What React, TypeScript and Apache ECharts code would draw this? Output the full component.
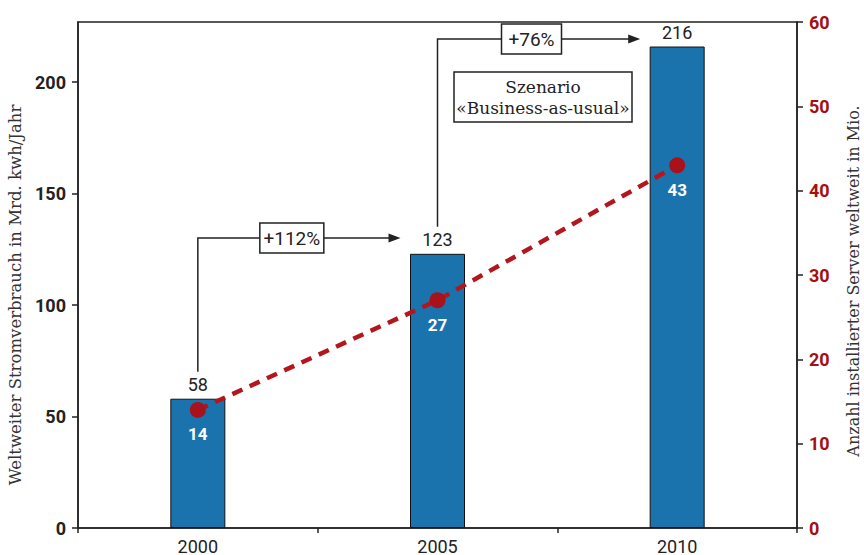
import React, { useEffect, useRef } from 'react';
import * as echarts from 'echarts';

// Weltweiter Stromverbrauch von Servern und installierte Server
const years = ['2000', '2005', '2010'];
const powerBillionKwh = [58, 123, 216];
const serversMillion = [14, 27, 43];
const growthLabels = ['+112%', '+76%'];
const scenarioLines = ['Szenario', '«Business-as-usual»'];

const SANS = 'Roboto, "Liberation Sans", sans-serif';
const SERIF = '"DejaVu Serif", "Liberation Serif", serif';
const INK = '#222';
const RED = '#a50f14';

export default function App() {
  const ref = useRef<HTMLDivElement>(null);

  useEffect(() => {
    const chart = echarts.init(ref.current!, null, { renderer: 'svg' });

    chart.setOption({
      animation: false,
      backgroundColor: '#ffffff',
      grid: {
        left: 78,
        right: 67,
        top: 22,
        bottom: 27,
        outerBoundsMode: 'none',
        show: true,
        borderColor: INK,
        borderWidth: 1.5,
      },
      xAxis: {
        type: 'category',
        data: years,
        axisLine: { lineStyle: { color: INK, width: 1.5 } },
        axisTick: { show: true, length: 5, lineStyle: { color: INK, width: 1.5 } },
        axisLabel: { fontFamily: SANS, fontSize: 18, color: INK, margin: 9 },
      },
      yAxis: [
        {
          type: 'value',
          position: 'left',
          min: 0,
          max: 227,
          interval: 50,
          name: 'Weltweiter Stromverbrauch in Mrd. kwh/Jahr',
          nameLocation: 'middle',
          nameGap: 46,
          nameTextStyle: {
            fontFamily: SERIF,
            fontSize: 16.5,
            color: '#333',
            padding: [0, 40, 0, 0],
          },
          axisLine: { show: true, lineStyle: { color: INK, width: 1.5 } },
          axisTick: { show: true, length: 6, lineStyle: { color: INK, width: 1.5 } },
          axisLabel: {
            showMaxLabel: false,
            fontFamily: SANS,
            fontWeight: 'bold',
            fontSize: 18,
            color: INK,
            margin: 12,
          },
          splitLine: { show: false },
        },
        {
          type: 'value',
          position: 'right',
          min: 0,
          max: 60,
          interval: 10,
          name: 'Anzahl installierter Server weltweit in Mio.',
          nameLocation: 'middle',
          nameGap: 48,
          nameTextStyle: { fontFamily: SERIF, fontSize: 16, color: '#333', padding: [0, 12, 0, 0] },
          axisLine: { show: true, lineStyle: { color: INK, width: 1.5 } },
          axisTick: { show: true, length: 6, lineStyle: { color: INK, width: 1.5 } },
          axisLabel: {
            fontFamily: SANS,
            fontWeight: 'bold',
            fontSize: 18,
            color: RED,
            margin: 12,
          },
          splitLine: { show: false },
        },
      ],
      series: [
        {
          type: 'bar',
          name: 'Stromverbrauch',
          data: powerBillionKwh,
          barWidth: 55,
          itemStyle: { color: '#1b73ad', borderColor: '#111', borderWidth: 1 },
          label: {
            show: true,
            position: 'top',
            distance: 5,
            fontFamily: SANS,
            fontSize: 18,
            color: INK,
          },
        },
        {
          type: 'line',
          name: 'Server',
          yAxisIndex: 1,
          data: serversMillion,
          z: 5,
          symbol: 'circle',
          symbolSize: 16,
          itemStyle: { color: '#a8121a' },
          lineStyle: { color: '#b3171d', width: 4.5, type: [11, 8] },
          label: {
            show: true,
            position: 'bottom',
            distance: 8,
            fontFamily: SANS,
            fontWeight: 'bold',
            fontSize: 17,
            color: '#ffffff',
          },
        },
      ],
    });

    // Growth annotations: bracket from one bar's label, labelled box, arrow to the next bar
    const barTop = (i: number) =>
      chart.convertToPixel({ xAxisIndex: 0, yAxisIndex: 0 }, [i, powerBillionKwh[i]]) as number[];
    const arrowY = [238, 39];
    const boxW = [64, 60];
    const boxH = 30;
    const graphics: any[] = [];

    growthLabels.forEach((txt, i) => {
      const [x0, y0] = barTop(i);
      const [x1] = barTop(i + 1);
      const y = arrowY[i];
      const tip = x1 - 37;
      const cx = x0 + 94;
      const bl = cx - boxW[i] / 2;
      const br = cx + boxW[i] / 2;
      const stroke = { stroke: INK, lineWidth: 1.5, fill: 'none' };
      graphics.push(
        { type: 'polyline', shape: { points: [[x0, y0 - 27], [x0, y], [bl, y]] }, style: stroke, z: 10 },
        { type: 'line', shape: { x1: br, y1: y, x2: tip - 10, y2: y }, style: stroke, z: 10 },
        {
          type: 'polygon',
          shape: { points: [[tip, y], [tip - 12, y - 4.5], [tip - 12, y + 4.5]] },
          style: { fill: INK },
          z: 10,
        },
        {
          type: 'rect',
          shape: { x: bl, y: y - boxH / 2, width: boxW[i], height: boxH },
          style: { fill: '#fff', stroke: INK, lineWidth: 1.5 },
          z: 10,
        },
        {
          type: 'text',
          x: cx,
          y: y,
          style: {
            text: txt,
            fontFamily: SANS,
            fontSize: 19,
            fill: INK,
            align: 'center',
            verticalAlign: 'middle',
          },
          z: 11,
        },
      );
    });

    // Scenario note
    graphics.push(
      {
        type: 'rect',
        shape: { x: 454, y: 72, width: 178, height: 50 },
        style: { fill: '#fff', stroke: INK, lineWidth: 1.5 },
        z: 10,
      },
      {
        type: 'text',
        x: 543,
        y: 97,
        style: {
          text: scenarioLines.join('\n'),
          fontFamily: SERIF,
          fontSize: 17,
          lineHeight: 21,
          fill: INK,
          align: 'center',
          verticalAlign: 'middle',
        },
        z: 11,
      },
    );

    chart.setOption({ graphic: graphics });

    return () => chart.dispose();
  }, []);

  return (
    <div
      ref={ref}
      style={{ position: 'absolute', left: 0, top: 0, width: 864, height: 555 }}
    />
  );
}
